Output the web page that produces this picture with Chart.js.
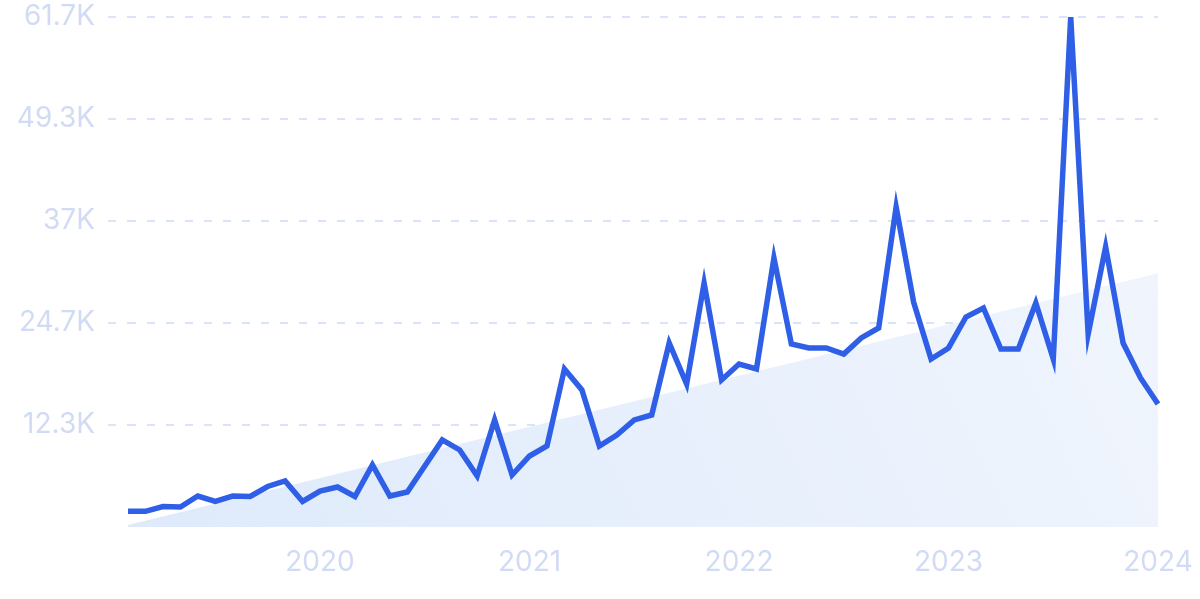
<!DOCTYPE html>
<html>
<head>
<meta charset="utf-8">
<script src="https://cdn.jsdelivr.net/npm/chart.js@4"></script>
<style>
  html, body { margin: 0; padding: 0; background: #ffffff; }
  #wrap { width: 1200px; height: 599px; position: relative; }
</style>
</head>
<body>
<div id="wrap"><canvas id="c" width="1200" height="599"></canvas></div>
<script>
// Categories: monthly, Feb 2019 .. Jan 2024
const months = [
  'Feb 2019','Mar 2019','Apr 2019','May 2019','Jun 2019','Jul 2019','Aug 2019','Sep 2019','Oct 2019','Nov 2019','Dec 2019',
  'Jan 2020','Feb 2020','Mar 2020','Apr 2020','May 2020','Jun 2020','Jul 2020','Aug 2020','Sep 2020','Oct 2020','Nov 2020','Dec 2020',
  'Jan 2021','Feb 2021','Mar 2021','Apr 2021','May 2021','Jun 2021','Jul 2021','Aug 2021','Sep 2021','Oct 2021','Nov 2021','Dec 2021',
  'Jan 2022','Feb 2022','Mar 2022','Apr 2022','May 2022','Jun 2022','Jul 2022','Aug 2022','Sep 2022','Oct 2022','Nov 2022','Dec 2022',
  'Jan 2023','Feb 2023','Mar 2023','Apr 2023','May 2023','Jun 2023','Jul 2023','Aug 2023','Sep 2023','Oct 2023','Nov 2023','Dec 2023',
  'Jan 2024'
];

// Search volume series
const volume = [
  1900, 1900, 2480, 2420, 3750, 3090, 3750, 3690, 4900, 5570, 3090,
  4350, 4840, 3690, 7500, 3750, 4240, 7380, 10530, 9320, 6170, 12950, 6290,
  8590, 9800, 19120, 16580, 9800, 11130, 12950, 13550, 22260, 17300, 29520, 17790,
  19720, 19120, 32550, 22140, 21660, 21660, 20930, 22870, 24080, 38720, 27220, 20330,
  21660, 25410, 26500, 21540, 21540, 27100, 20330, 61700, 23350, 33880, 22260, 18030,
  14880
];

// Trend line: start and end values
const trendStart = 250;
const trendEnd = 30700;

// Tick labels
const yTickLabels = ['', '12.3K', '24.7K', '37K', '49.3K', '61.7K'];
const yearLabels = ['2020', '2021', '2022', '2023', '2024'];
const yMax = 61700;
const yStep = 12340;

const ctx = document.getElementById('c').getContext('2d');

function trendGradient(context) {
  const chart = context.chart;
  const area = chart.chartArea;
  if (!area) return 'rgba(226,237,251,0.8)';
  const g = chart.ctx.createLinearGradient(area.left, area.bottom, area.right, area.top);
  g.addColorStop(0, 'rgba(222,234,251,1)');
  g.addColorStop(1, 'rgba(242,246,253,1)');
  return g;
}

const gridCol = function (c) { return c.tick && c.tick.value === 0 ? 'rgba(0,0,0,0)' : '#d9e4fb'; };

new Chart(ctx, {
  type: 'line',
  data: {
    labels: months,
    datasets: [
      {
        label: 'Volume',
        data: volume,
        borderColor: '#2f5fe6',
        borderWidth: 5.5,
        pointRadius: 0,
        tension: 0,
        fill: false,
        order: 0
      },
      {
        label: 'Trend',
        data: [
          { x: months[0], y: trendStart },
          { x: months[months.length - 1], y: trendEnd }
        ],
        borderWidth: 0,
        borderColor: 'rgba(0,0,0,0)',
        backgroundColor: trendGradient,
        pointRadius: 0,
        fill: 'origin',
        order: 1
      }
    ]
  },
  options: {
    responsive: false,
    animation: false,
    layout: { padding: { top: 17, right: 42, bottom: 0, left: 0 } },
    plugins: { legend: { display: false }, tooltip: { enabled: false } },
    scales: {
      x: {
        type: 'category',
        afterFit: function (s) {
          s.height = 72;
          s.paddingLeft = 0; s.paddingRight = 0; s.paddingTop = 0; s.paddingBottom = 0;
        },
        grid: { display: false, drawTicks: false },
        border: { display: false },
        ticks: {
          autoSkip: false,
          maxRotation: 0,
          padding: 19,
          color: '#d2dbf4',
          font: { family: 'Inter', size: 28 },
          callback: function (val, idx) {
            const lab = months[idx];
            if (lab.startsWith('Jan ')) {
              const yr = lab.slice(4);
              return yearLabels.includes(yr) ? yr : '';
            }
            return '';
          }
        }
      },
      y: {
        min: 0,
        max: yMax,
        afterFit: function (s) {
          s.width = 128;
          s.paddingLeft = 0; s.paddingRight = 0; s.paddingTop = 0; s.paddingBottom = 0;
        },
        border: { display: false, dash: [8, 11] },
        grid: {
          color: gridCol,
          lineWidth: 2,
          drawTicks: true,
          tickLength: 20,
          tickColor: gridCol,
          tickBorderDash: [8, 11],
          tickWidth: 2
        },
        ticks: {
          stepSize: yStep,
          padding: 13,
          color: '#d2dbf4',
          font: { family: 'Inter', size: 28 },
          callback: function (val, idx) { return yTickLabels[idx]; }
        }
      }
    }
  }
});
</script>
</body>
</html>
